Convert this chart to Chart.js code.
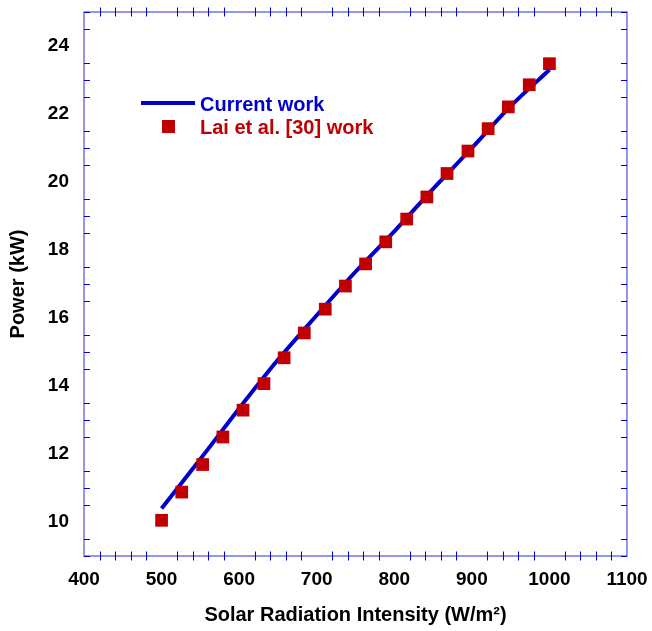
<!DOCTYPE html>
<html>
<head>
<meta charset="utf-8">
<script src="https://cdn.jsdelivr.net/npm/chart.js@4.4.0/dist/chart.umd.min.js"></script>
<style>
  html, body { margin: 0; padding: 0; background: #fff; }
  #wrap { width: 652px; height: 631px; position: relative; }
</style>
</head>
<body>
<div id="wrap"><canvas id="chart"></canvas></div>
<script>
// Lai et al. [30] work (red squares)
const radiationLai = [500, 526, 553, 579, 605, 632, 658, 684, 711, 737, 763, 789, 816, 842, 868, 895, 921, 947, 974, 1000];
const powerLai = [10.05, 10.88, 11.69, 12.5, 13.29, 14.07, 14.83, 15.56, 16.26, 16.94, 17.59, 18.24, 18.91, 19.56, 20.25, 20.91, 21.57, 22.21, 22.86, 23.48];

// Current work (blue line)
const radiationCurrent = [500, 550, 600, 650, 700, 750, 800, 850, 900, 950, 1000];
const powerCurrent = [10.4, 11.85, 13.34, 14.77, 16.08, 17.36, 18.55, 19.8, 21.0, 22.23, 23.3];

const xMin = 400, xMax = 1100, xMinorStep = 20, xMajorStep = 100;
const yMin = 9, yMax = 25, yMinorStep = 0.5, yMajorStep = 2;

const blue = '#0000cc';
const red = '#c00000';
const FONT = '"Liberation Sans", Arial, Helvetica, sans-serif';

Chart.defaults.font.family = FONT;
Chart.defaults.color = '#000';

function toPoints(xs, ys) {
    return xs.map((x, i) => ({ x: x, y: ys[i] }));
}

function isMajor(v, step) {
    return Math.abs(v / step - Math.round(v / step)) < 1e-6;
}

// frame, inner tick marks and the legend
const framePlugin = {
    id: 'frame',
    afterDraw(chart) {
        const ctx = chart.ctx;
        const a = chart.chartArea;
        const xs = chart.scales.x, ys = chart.scales.y;
        ctx.save();
        ctx.strokeStyle = '#5050e0';
        ctx.lineWidth = 1.2;
        ctx.strokeRect(a.left, a.top, a.right - a.left, a.bottom - a.top);

        ctx.strokeStyle = blue;
        ctx.lineWidth = 1;
        ctx.beginPath();
        xs.ticks.forEach(t => {
            if (isMajor(t.value, xMajorStep)) return;
            const px = Math.round(xs.getPixelForValue(t.value)) + 0.5;
            ctx.moveTo(px, a.bottom - 4.5); ctx.lineTo(px, a.bottom + 4.5);
            ctx.moveTo(px, a.top - 4.5); ctx.lineTo(px, a.top + 4.5);
        });
        ys.ticks.forEach(t => {
            if (isMajor(t.value, yMajorStep)) return;
            const py = Math.round(ys.getPixelForValue(t.value)) + 0.5;
            ctx.moveTo(a.left, py); ctx.lineTo(a.left + 6, py);
            ctx.moveTo(a.right, py); ctx.lineTo(a.right - 6, py);
        });
        ctx.stroke();

        // legend
        const lx = a.left + 57, ly = a.top + 91;
        ctx.strokeStyle = blue;
        ctx.lineWidth = 4;
        ctx.beginPath();
        ctx.moveTo(lx, ly); ctx.lineTo(lx + 54, ly);
        ctx.stroke();
        ctx.fillStyle = red;
        ctx.fillRect(lx + 21, ly + 17, 13, 13);

        ctx.font = 'bold 20px ' + FONT;
        ctx.textAlign = 'left';
        ctx.textBaseline = 'alphabetic';
        ctx.fillStyle = blue;
        ctx.fillText('Current work', lx + 59, ly + 8);
        ctx.fillStyle = red;
        ctx.fillText('Lai et al. [30] work', lx + 59, ly + 31);
        ctx.restore();
    }
};

const ctx = document.getElementById('chart');

new Chart(ctx, {
    type: 'scatter',
    data: {
        datasets: [
            {
                label: 'Lai et al. [30] work',
                data: toPoints(radiationLai, powerLai),
                pointStyle: 'rect',
                pointRadius: 9,
                pointHoverRadius: 9,
                backgroundColor: red,
                borderWidth: 0,
                order: 0
            },
            {
                type: 'line',
                label: 'Current work',
                data: toPoints(radiationCurrent, powerCurrent),
                borderColor: blue,
                borderWidth: 4,
                pointRadius: 0,
                tension: 0.3,
                fill: false,
                order: 1
            }
        ]
    },
    options: {
        responsive: true,
        maintainAspectRatio: false,
        animation: false,
        layout: { padding: { top: 12, right: 25, left: 0, bottom: 0 } },
        plugins: {
            legend: { display: false },
            tooltip: { enabled: false }
        },
        scales: {
            x: {
                type: 'linear',
                min: xMin,
                max: xMax,
                afterFit(scale) {
                    scale.height = 75;
                    scale.paddingLeft = 0;
                    scale.paddingRight = 0;
                },
                grid: { display: false, drawTicks: false },
                border: { display: false },
                ticks: {
                    stepSize: xMinorStep,
                    autoSkip: false,
                    maxRotation: 0,
                    padding: 12,
                    font: { size: 19, weight: 'bold' },
                    callback: (v) => isMajor(v, xMajorStep) ? String(v) : ''
                },
                title: {
                    display: true,
                    text: 'Solar Radiation Intensity (W/m²)',
                    font: { size: 20, weight: 'bold' },
                    padding: { top: 0, bottom: 4 }
                }
            },
            y: {
                type: 'linear',
                min: yMin,
                max: yMax,
                afterFit(scale) {
                    scale.width = 84;
                    scale.paddingTop = 0;
                    scale.paddingBottom = 0;
                },
                grid: { display: false, drawTicks: false },
                border: { display: false },
                ticks: {
                    stepSize: yMinorStep,
                    autoSkip: false,
                    padding: 15,
                    font: { size: 19, weight: 'bold' },
                    callback: (v) => isMajor(v, yMajorStep) ? String(v) : ''
                },
                title: {
                    display: true,
                    text: 'Power (kW)',
                    font: { size: 20, weight: 'bold' },
                    padding: { top: 6, bottom: 0 }
                }
            }
        }
    },
    plugins: [framePlugin]
});
</script>
</body>
</html>
